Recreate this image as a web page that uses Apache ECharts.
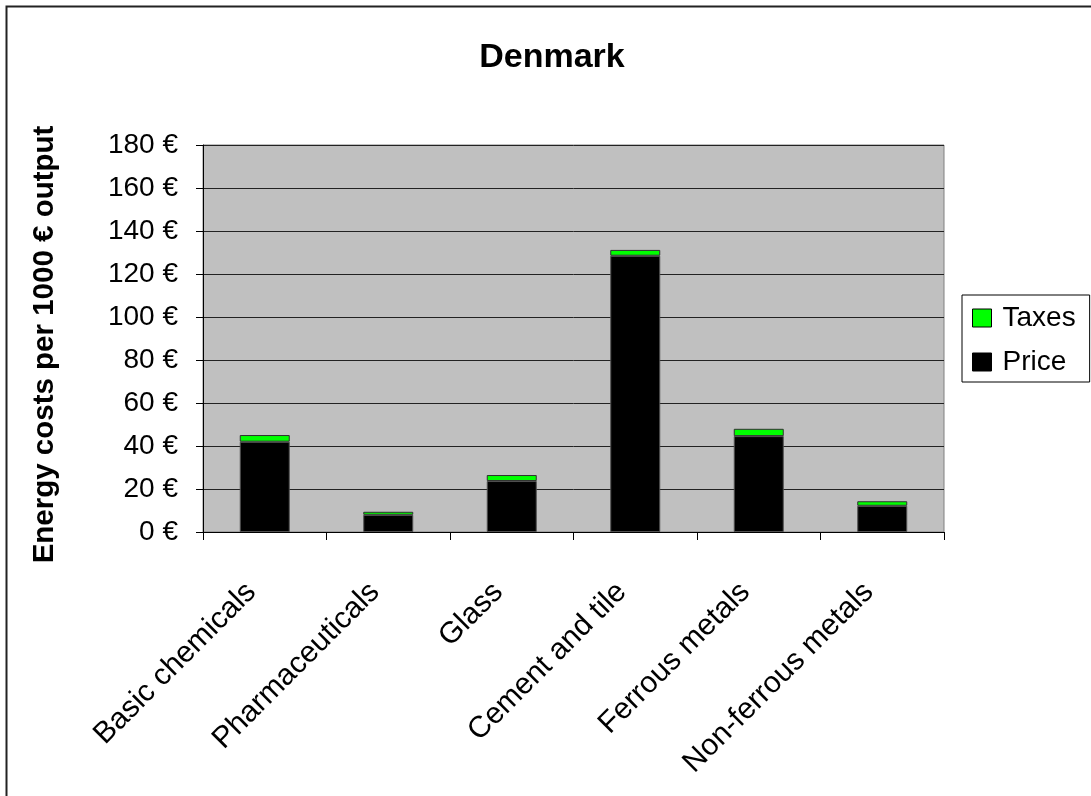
<!DOCTYPE html>
<html>
<head>
<meta charset="utf-8">
<script src="https://cdn.jsdelivr.net/npm/echarts@6/dist/echarts.min.js"></script>
<style>
  html, body { margin: 0; padding: 0; background: #fff; }
  #chart { width: 1091px; height: 796px; }
</style>
</head>
<body>
<div id="chart"></div>
<script>
// Energy costs per 1000 € output, Denmark
const categories = ['Basic chemicals', 'Pharmaceuticals', 'Glass', 'Cement and tile', 'Ferrous metals', 'Non-ferrous metals'];
const priceValues = [42, 8, 23.7, 128.5, 44.6, 12.2];
const taxValues = [3.1, 1.4, 2.8, 2.7, 3.4, 2.1];
const yTicks = { min: 0, max: 180, interval: 20 };

const FONT = '"Liberation Sans", Arial, sans-serif';

const chart = echarts.init(document.getElementById('chart'), null, { renderer: 'canvas' });

chart.setOption({
  animation: false,
  backgroundColor: '#fff',
  textStyle: { fontFamily: FONT, color: '#000' },
  title: {
    text: 'Denmark',
    left: 547,
    textAlign: 'center',
    top: 36,
    textStyle: { fontFamily: FONT, fontSize: 34, fontWeight: 'bold', color: '#000' }
  },
  graphic: [{
    type: 'rect',
    left: 4, top: 4,
    shape: { width: 1100, height: 800 },
    style: { fill: 'none', stroke: '#222', lineWidth: 2 },
    silent: true
  }],
  legend: {
    data: ['Taxes', 'Price'],
    orient: 'vertical',
    left: 962,
    top: 295,
    padding: [9, 14, 6, 10],
    itemGap: 16,
    itemWidth: 19,
    itemHeight: 18,
    icon: 'rect',
    borderColor: '#000',
    borderWidth: 1,
    backgroundColor: '#fff',
    itemStyle: { borderColor: '#000', borderWidth: 1 },
    textStyle: { fontFamily: FONT, fontSize: 28, color: '#000', padding: [0, 0, 0, 6] }
  },
  grid: {
    left: 203,
    right: 147,
    top: 145,
    bottom: 264,
    show: true,
    backgroundColor: '#C0C0C0',
    borderColor: '#808080',
    borderWidth: 1
  },
  xAxis: {
    type: 'category',
    data: categories,
    boundaryGap: true,
    axisLine: { show: true, lineStyle: { color: '#000', width: 1 } },
    axisTick: { show: true, length: 8, alignWithLabel: false, lineStyle: { color: '#000' } },
    axisLabel: {
      interval: 0,
      rotate: 45,
      margin: 42,
      padding: [0, 19, 0, 0],
      fontFamily: FONT,
      fontSize: 30,
      color: '#000'
    },
    splitLine: { show: false }
  },
  yAxis: {
    type: 'value',
    min: yTicks.min,
    max: yTicks.max,
    interval: yTicks.interval,
    name: 'Energy costs per 1000 € output',
    nameLocation: 'middle',
    nameGap: 143,
    nameRotate: 90,
    nameTextStyle: { fontFamily: FONT, fontSize: 29.5, fontWeight: 'bold', color: '#000', padding: [0, 12, 0, 0] },
    axisLine: { show: true, lineStyle: { color: '#000', width: 1 } },
    axisTick: { show: true, length: 7, lineStyle: { color: '#000' } },
    axisLabel: {
      formatter: '{value} €',
      margin: 25,
      fontFamily: FONT,
      fontSize: 28,
      color: '#000'
    },
    splitLine: { show: true, lineStyle: { color: '#222', width: 1 } }
  },
  series: [
    {
      name: 'Price',
      type: 'bar',
      stack: 'cost',
      data: priceValues,
      barWidth: 50,
      itemStyle: { color: '#000000', borderColor: '#505050', borderWidth: 1 }
    },
    {
      name: 'Taxes',
      type: 'bar',
      stack: 'cost',
      data: taxValues,
      barWidth: 50,
      itemStyle: { color: '#00FF00', borderColor: '#303030', borderWidth: 1 }
    }
  ]
});
</script>
</body>
</html>
